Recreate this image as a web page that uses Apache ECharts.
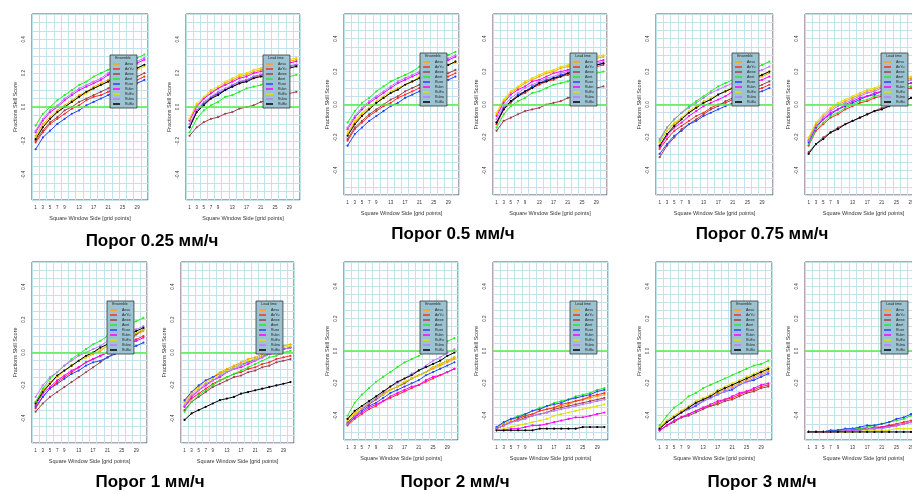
<!DOCTYPE html>
<html><head><meta charset="utf-8">
<script src="https://cdn.jsdelivr.net/npm/echarts@6/dist/echarts.min.js"></script>
<style>html,body{margin:0;padding:0;background:#fff}#c{width:912px;height:494px}</style>
</head><body><div id="c"></div>
<script>
const windowSides=[1,3,5,7,9,11,13,15,17,19,21,23,25,27,29,31];
const xTickLabels=[1,3,5,7,9,13,17,21,25,29];
const yTickLabels=[-0.4,-0.2,0,0.2,0.4];
const seriesNames=['Aesu','AeYu','Aewe','Aeet','Ruse','Rubn','RuEu','Rubw','RuBu'];
const seriesColors=['#ffa500','#ff2a2a','#a0404a','#22ee22','#2244ff','#ff00ff','#e0e000','#b77cff','#000000'];
const captions=['Порог 0.25 мм/ч','Порог 0.5 мм/ч','Порог 0.75 мм/ч','Порог 1 мм/ч','Порог 2 мм/ч','Порог 3 мм/ч'];
const legendTitles=['Ensemble','Lead time'];

const p025L=[
[-.17,-.10,-.06,-.02,.01,.04,.07,.09,.12,.14,.16,.18,.20,.22,.23,.25],
[-.21,-.15,-.10,-.07,-.04,-.01,.01,.04,.06,.07,.09,.11,.13,.15,.16,.18],
[-.20,-.14,-.09,-.06,-.02,0,.03,.05,.07,.09,.11,.13,.15,.17,.18,.20],
[-.11,-.04,0,.04,.07,.10,.13,.15,.18,.20,.22,.24,.26,.28,.29,.31],
[-.25,-.18,-.14,-.10,-.07,-.04,-.02,.01,.03,.05,.07,.09,.11,.13,.14,.16],
[-.15,-.08,-.03,0,.04,.07,.10,.12,.14,.16,.19,.21,.23,.25,.26,.28],
[-.18,-.11,-.07,-.03,0,.03,.06,.08,.11,.13,.15,.17,.19,.21,.22,.24],
[-.14,-.07,-.02,.01,.05,.08,.11,.13,.15,.17,.20,.22,.24,.26,.27,.29],
[-.19,-.12,-.07,-.03,0,.03,.06,.09,.11,.13,.15,.18,.20,.22,.23,.25]];
const p025R=[
[-.08,.01,.05,.09,.11,.14,.16,.18,.19,.21,.22,.23,.25,.26,.27,.28],
[-.12,-.03,.02,.05,.08,.10,.12,.14,.16,.17,.19,.20,.22,.23,.24,.25],
[-.17,-.12,-.09,-.07,-.06,-.04,-.03,-.01,0,.01,.03,.04,.05,.07,.08,.09],
[-.15,-.07,-.02,.01,.03,.06,.07,.09,.11,.12,.13,.15,.16,.17,.18,.19],
[-.12,-.02,.02,.06,.08,.10,.13,.15,.16,.18,.19,.20,.22,.23,.24,.25],
[-.08,0,.05,.08,.11,.13,.15,.17,.18,.20,.21,.22,.24,.25,.26,.27],
[-.07,.02,.06,.10,.12,.15,.17,.19,.20,.22,.23,.24,.26,.27,.28,.29],
[-.10,-.02,.03,.06,.09,.11,.13,.15,.16,.18,.19,.20,.22,.23,.24,.25],
[-.12,-.03,.01,.05,.07,.10,.12,.14,.15,.17,.18,.19,.21,.22,.23,.24]];
const p05L=[
[-.18,-.11,-.06,-.02,.01,.04,.07,.10,.12,.14,.16,.19,.21,.23,.24,.26],
[-.22,-.15,-.11,-.07,-.04,-.01,.01,.04,.06,.08,.10,.12,.14,.16,.17,.19],
[-.21,-.14,-.10,-.06,-.03,0,.03,.05,.08,.10,.12,.14,.16,.18,.19,.21],
[-.11,-.04,.01,.04,.08,.11,.14,.16,.18,.20,.23,.25,.27,.29,.30,.32],
[-.25,-.18,-.14,-.10,-.07,-.04,-.01,.01,.04,.06,.08,.10,.12,.14,.15,.17],
[-.15,-.08,-.03,.01,.04,.07,.10,.13,.15,.17,.19,.22,.24,.26,.27,.29],
[-.17,-.10,-.05,-.02,.02,.05,.08,.10,.12,.14,.17,.19,.21,.23,.24,.26],
[-.14,-.07,-.02,.02,.05,.08,.11,.14,.16,.18,.20,.23,.25,.27,.28,.30],
[-.19,-.12,-.07,-.03,.01,.04,.07,.09,.12,.14,.16,.18,.21,.23,.24,.26]];
const p05R=[
[-.06,.02,.07,.10,.13,.15,.17,.19,.20,.22,.23,.24,.26,.27,.28,.29],
[-.12,-.03,.01,.05,.07,.10,.12,.14,.15,.17,.18,.19,.21,.22,.23,.24],
[-.16,-.10,-.08,-.06,-.04,-.03,-.02,0,.01,.02,.04,.05,.07,.08,.10,.11],
[-.14,-.06,-.01,.02,.04,.07,.08,.10,.12,.13,.14,.16,.17,.18,.19,.20],
[-.11,-.02,.02,.06,.08,.11,.13,.15,.16,.18,.19,.20,.22,.23,.24,.25],
[-.07,.01,.06,.09,.11,.14,.15,.17,.19,.20,.21,.23,.24,.25,.26,.27],
[-.05,.03,.08,.11,.14,.16,.18,.20,.21,.23,.24,.25,.27,.28,.29,.30],
[-.09,-.01,.04,.07,.10,.12,.14,.16,.17,.19,.20,.21,.23,.24,.25,.26],
[-.11,-.03,.02,.05,.08,.10,.13,.14,.16,.17,.19,.20,.21,.23,.24,.25]];
const p075L=[
[-.23,-.16,-.12,-.08,-.05,-.02,.01,.03,.06,.08,.10,.12,.14,.16,.17,.19],
[-.27,-.21,-.16,-.13,-.10,-.07,-.05,-.02,0,.01,.03,.05,.07,.09,.10,.12],
[-.32,-.25,-.20,-.15,-.12,-.09,-.06,-.03,-.01,.02,.04,.06,.08,.10,.12,.14],
[-.22,-.14,-.09,-.05,-.01,.02,.05,.08,.11,.13,.15,.18,.20,.22,.24,.26],
[-.30,-.24,-.19,-.16,-.12,-.10,-.07,-.05,-.03,-.01,.01,.03,.05,.07,.08,.10],
[-.26,-.19,-.14,-.11,-.07,-.04,-.01,.01,.03,.05,.08,.10,.12,.14,.15,.17],
[-.23,-.16,-.11,-.08,-.04,-.01,.02,.04,.06,.08,.11,.13,.15,.17,.18,.20],
[-.21,-.14,-.09,-.05,-.02,.01,.04,.07,.09,.11,.13,.16,.18,.20,.21,.23],
[-.25,-.18,-.13,-.09,-.05,-.02,.01,.03,.06,.08,.10,.12,.15,.16,.18,.20]];
const p075R=[
[-.21,-.12,-.07,-.03,0,.02,.04,.06,.08,.09,.11,.12,.14,.15,.16,.17],
[-.25,-.16,-.12,-.08,-.06,-.03,-.01,.01,.02,.04,.05,.06,.08,.09,.10,.11],
[-.29,-.24,-.20,-.17,-.14,-.12,-.10,-.08,-.06,-.04,-.02,-.01,.01,.02,.04,.05],
[-.24,-.15,-.11,-.07,-.05,-.02,0,.02,.03,.05,.06,.07,.09,.10,.11,.12],
[-.23,-.14,-.09,-.06,-.03,-.01,.01,.03,.05,.06,.08,.09,.11,.12,.13,.14],
[-.22,-.13,-.09,-.05,-.03,0,.02,.04,.05,.07,.08,.09,.11,.12,.13,.14],
[-.20,-.11,-.06,-.02,.01,.03,.05,.07,.09,.10,.12,.13,.15,.16,.17,.18],
[-.22,-.13,-.08,-.04,-.01,.01,.03,.05,.07,.08,.10,.11,.13,.14,.15,.16],
[-.30,-.24,-.21,-.17,-.15,-.12,-.10,-.08,-.06,-.04,-.03,-.01,.01,.02,.04,.05]];
const p1L=[
[-.30,-.23,-.18,-.15,-.11,-.08,-.05,-.03,-.01,.01,.04,.06,.08,.10,.11,.13],
[-.34,-.27,-.22,-.18,-.15,-.12,-.09,-.06,-.04,-.02,0,.03,.05,.06,.08,.10],
[-.36,-.31,-.27,-.24,-.21,-.18,-.15,-.12,-.09,-.06,-.03,0,.04,.07,.11,.14],
[-.30,-.22,-.16,-.12,-.08,-.04,-.01,.02,.05,.07,.10,.12,.15,.17,.19,.21],
[-.33,-.27,-.22,-.19,-.16,-.13,-.11,-.08,-.06,-.05,-.03,-.01,.01,.03,.04,.06],
[-.32,-.25,-.21,-.17,-.14,-.11,-.09,-.06,-.04,-.02,0,.02,.04,.06,.07,.09],
[-.31,-.24,-.19,-.15,-.11,-.08,-.05,-.03,0,.02,.04,.06,.09,.10,.12,.14],
[-.27,-.20,-.15,-.12,-.08,-.05,-.02,0,.02,.04,.07,.09,.11,.13,.14,.16],
[-.31,-.24,-.19,-.14,-.11,-.08,-.05,-.02,0,.03,.05,.07,.09,.11,.13,.15]];
const p1R=[
[-.30,-.24,-.21,-.17,-.15,-.12,-.10,-.08,-.06,-.04,-.03,-.01,.01,.02,.04,.05],
[-.33,-.28,-.25,-.22,-.19,-.17,-.15,-.13,-.12,-.10,-.09,-.07,-.06,-.04,-.03,-.02],
[-.35,-.30,-.27,-.24,-.21,-.19,-.17,-.15,-.14,-.12,-.11,-.09,-.08,-.06,-.05,-.04],
[-.36,-.30,-.26,-.23,-.20,-.17,-.15,-.13,-.11,-.09,-.07,-.05,-.03,-.02,0,.01],
[-.29,-.24,-.20,-.17,-.15,-.13,-.11,-.09,-.07,-.06,-.04,-.02,-.01,0,.02,.03],
[-.33,-.27,-.23,-.20,-.17,-.15,-.12,-.10,-.09,-.07,-.05,-.03,-.01,0,.02,.03],
[-.31,-.25,-.22,-.18,-.16,-.13,-.11,-.09,-.07,-.05,-.04,-.02,0,.01,.03,.04],
[-.32,-.26,-.23,-.19,-.17,-.14,-.12,-.10,-.08,-.06,-.05,-.03,-.01,0,.02,.03],
[-.41,-.37,-.35,-.33,-.31,-.29,-.28,-.27,-.25,-.24,-.23,-.22,-.21,-.20,-.19,-.18]];
const p2L=[
[-.42,-.38,-.35,-.32,-.29,-.26,-.24,-.22,-.19,-.17,-.15,-.13,-.11,-.09,-.07,-.05],
[-.46,-.42,-.39,-.36,-.34,-.31,-.29,-.27,-.25,-.23,-.21,-.19,-.17,-.15,-.13,-.11],
[-.44,-.40,-.36,-.33,-.30,-.27,-.24,-.22,-.20,-.17,-.15,-.13,-.10,-.08,-.06,-.04],
[-.40,-.32,-.27,-.23,-.19,-.16,-.13,-.10,-.07,-.05,-.03,0,.02,.04,.06,.08],
[-.45,-.41,-.37,-.34,-.32,-.29,-.26,-.24,-.22,-.20,-.18,-.15,-.13,-.11,-.09,-.07],
[-.45,-.41,-.38,-.35,-.33,-.31,-.28,-.26,-.24,-.22,-.21,-.18,-.16,-.15,-.13,-.11],
[-.43,-.39,-.35,-.32,-.29,-.27,-.24,-.22,-.19,-.17,-.15,-.13,-.10,-.08,-.06,-.04],
[-.45,-.40,-.36,-.32,-.29,-.26,-.22,-.20,-.17,-.14,-.12,-.09,-.06,-.04,-.01,.01],
[-.42,-.37,-.34,-.31,-.28,-.25,-.22,-.19,-.17,-.15,-.12,-.10,-.08,-.06,-.03,-.01]];
const p2R=[
[-.47,-.45,-.43,-.41,-.40,-.39,-.37,-.36,-.35,-.34,-.33,-.31,-.30,-.29,-.28,-.27],
[-.48,-.46,-.44,-.42,-.40,-.39,-.37,-.36,-.35,-.33,-.32,-.31,-.30,-.28,-.27,-.26],
[-.48,-.46,-.44,-.43,-.41,-.40,-.39,-.38,-.36,-.35,-.34,-.33,-.32,-.31,-.30,-.29],
[-.47,-.44,-.42,-.40,-.39,-.37,-.35,-.34,-.32,-.31,-.30,-.28,-.27,-.26,-.24,-.23],
[-.47,-.44,-.42,-.41,-.39,-.37,-.36,-.34,-.33,-.32,-.30,-.29,-.28,-.27,-.25,-.24],
[-.49,-.49,-.48,-.48,-.47,-.46,-.46,-.45,-.44,-.43,-.42,-.41,-.41,-.40,-.39,-.38],
[-.49,-.48,-.47,-.46,-.45,-.44,-.43,-.42,-.40,-.39,-.38,-.37,-.36,-.35,-.34,-.33],
[-.48,-.46,-.44,-.43,-.42,-.40,-.39,-.38,-.37,-.36,-.35,-.34,-.33,-.32,-.31,-.30],
[-.49,-.49,-.49,-.49,-.49,-.49,-.48,-.48,-.48,-.48,-.48,-.48,-.47,-.47,-.47,-.47]];
const p3L=[
[-.47,-.43,-.40,-.37,-.35,-.32,-.30,-.28,-.26,-.24,-.22,-.20,-.18,-.16,-.14,-.12],
[-.49,-.46,-.43,-.41,-.39,-.37,-.35,-.34,-.32,-.30,-.29,-.27,-.25,-.24,-.22,-.21],
[-.49,-.46,-.44,-.41,-.40,-.38,-.36,-.34,-.33,-.31,-.30,-.28,-.26,-.25,-.23,-.22],
[-.46,-.40,-.35,-.32,-.28,-.26,-.23,-.21,-.19,-.17,-.15,-.13,-.11,-.09,-.08,-.06],
[-.48,-.44,-.41,-.38,-.36,-.34,-.31,-.29,-.27,-.25,-.24,-.21,-.19,-.18,-.16,-.14],
[-.49,-.46,-.43,-.41,-.39,-.37,-.35,-.33,-.31,-.30,-.28,-.26,-.25,-.23,-.21,-.20],
[-.47,-.43,-.40,-.37,-.34,-.31,-.29,-.27,-.24,-.22,-.20,-.18,-.16,-.14,-.12,-.10],
[-.48,-.44,-.41,-.38,-.36,-.33,-.31,-.29,-.27,-.25,-.23,-.21,-.19,-.17,-.15,-.13],
[-.48,-.44,-.41,-.38,-.35,-.32,-.30,-.28,-.25,-.23,-.21,-.19,-.17,-.15,-.13,-.11]];
const p3R=[
[-.50,-.50,-.50,-.50,-.49,-.49,-.49,-.49,-.48,-.48,-.47,-.47,-.46,-.45,-.44,-.43],
[-.50,-.50,-.50,-.50,-.49,-.49,-.49,-.48,-.48,-.47,-.47,-.46,-.45,-.44,-.43,-.41],
[-.50,-.50,-.50,-.50,-.49,-.49,-.49,-.48,-.48,-.48,-.47,-.46,-.46,-.45,-.44,-.42],
[-.50,-.50,-.50,-.49,-.49,-.49,-.48,-.48,-.47,-.46,-.45,-.44,-.43,-.42,-.40,-.38],
[-.50,-.50,-.50,-.49,-.49,-.48,-.48,-.47,-.46,-.46,-.45,-.44,-.42,-.41,-.39,-.36],
[-.50,-.50,-.50,-.50,-.50,-.49,-.49,-.49,-.48,-.48,-.47,-.47,-.46,-.45,-.44,-.42],
[-.50,-.50,-.50,-.50,-.50,-.50,-.50,-.50,-.49,-.49,-.49,-.49,-.48,-.48,-.48,-.47],
[-.50,-.50,-.50,-.50,-.50,-.49,-.49,-.49,-.48,-.48,-.48,-.47,-.46,-.45,-.44,-.43],
[-.50,-.50,-.50,-.50,-.50,-.50,-.50,-.50,-.50,-.50,-.50,-.50,-.50,-.50,-.50,-.50]];

const panelData=[p025L,p025R,p05L,p05R,p075L,p075R,p1L,p1R,p2L,p2R,p3L,p3R];

// layout (pixels)
const gridBoxes=[[32,14,116,186],[186,14,114,186],[344,14,115,181],[493,14,114,181],[656,14,117,181],[805,14,117,181],
 [32,262,115,181],[181,262,113,181],[344,262,114,178],[493,262,115,178],[656,262,116,178],[805,262,117,178]];
const legendPos=[[110,55],[263,55],[420,53],[570,53],[732,53],[881,53],[107,301],[256,301],[420,301],[570,301],[731,301],[881,301]];
const captionPos=[[152,241],[453,234],[762,234],[150,482],[455,482],[762,482]];

const chart=echarts.init(document.getElementById('c'),null,{renderer:'canvas'});
const grid=[],xAxis=[],yAxis=[],series=[],legend=[],graphic=[];
const gridColor='#c4e2ee';
panelData.forEach((pd,k)=>{
  const g=gridBoxes[k];
  grid.push({left:g[0],top:g[1],width:g[2],height:g[3],show:true,borderColor:'#555',borderWidth:1,backgroundColor:'#fff',outerBoundsMode:'none',containLabel:false});
  xAxis.push({type:'value',gridIndex:k,min:0,max:32,interval:2,
    axisLine:{show:false},axisTick:{show:false},
    axisLabel:{customValues:xTickLabels,fontSize:4.5,color:'#333',margin:5},
    splitLine:{show:true,lineStyle:{color:gridColor,width:1}},
    name:'Square Window Side [grid points]',nameLocation:'middle',nameGap:15,
    nameTextStyle:{fontSize:5.5,color:'#333'}});
  yAxis.push({type:'value',gridIndex:k,min:-0.55,max:0.55,interval:0.05,
    axisLine:{show:false},axisTick:{show:false},
    axisLabel:{customValues:yTickLabels,rotate:90,fontSize:4.5,color:'#333',margin:6,formatter:v=>v.toFixed(1)},
    splitLine:{show:true,lineStyle:{color:gridColor,width:1}},
    name:'Fractions Skill Score',nameLocation:'middle',nameGap:14,
    nameTextStyle:{fontSize:5.5,color:'#333'}});
  pd.forEach((vals,j)=>{
    const s={type:'line',name:seriesNames[j],xAxisIndex:k,yAxisIndex:k,
      data:windowSides.map((x,i)=>[x,vals[i]]),color:seriesColors[j],
      symbol:'circle',symbolSize:2.2,lineStyle:{width:1},itemStyle:{color:seriesColors[j]},
      animation:false,silent:true,emphasis:{disabled:true},z:3};
    if(j===0){
      s.markLine={silent:true,symbol:'none',label:{show:false},animation:false,
        lineStyle:{color:'#55ee44',width:1.5,type:'solid'},data:[{yAxis:0}]};
    }
    series.push(s);
  });
  const lp=legendPos[k];
  legend.push({show:true,left:lp[0],top:lp[1],orient:'vertical',data:seriesNames,selectedMode:false,
    backgroundColor:'#9cc3d1',borderColor:'#333',borderWidth:0.8,padding:[7,3,2,3],
    itemGap:1,itemWidth:7,itemHeight:1.5,itemTextGap:3,icon:'rect',
    textStyle:{fontSize:3.5,color:'#222',lineHeight:4},z:10});
  graphic.push({type:'text',x:lp[0]+13,y:lp[1]+3.5,z:100,
    style:{text:legendTitles[k%2],font:'3.5px sans-serif',fill:'#222',textAlign:'center',textVerticalAlign:'middle'}});
});
captions.forEach((t,i)=>{
  graphic.push({type:'text',x:captionPos[i][0],y:captionPos[i][1],z:100,
    style:{text:t,font:'bold 17px "Liberation Sans", Arial, sans-serif',fill:'#000',textAlign:'center',textVerticalAlign:'middle'}});
});
chart.setOption({backgroundColor:'#fff',animation:false,grid,xAxis,yAxis,series,legend,graphic});
</script>
</body></html>
